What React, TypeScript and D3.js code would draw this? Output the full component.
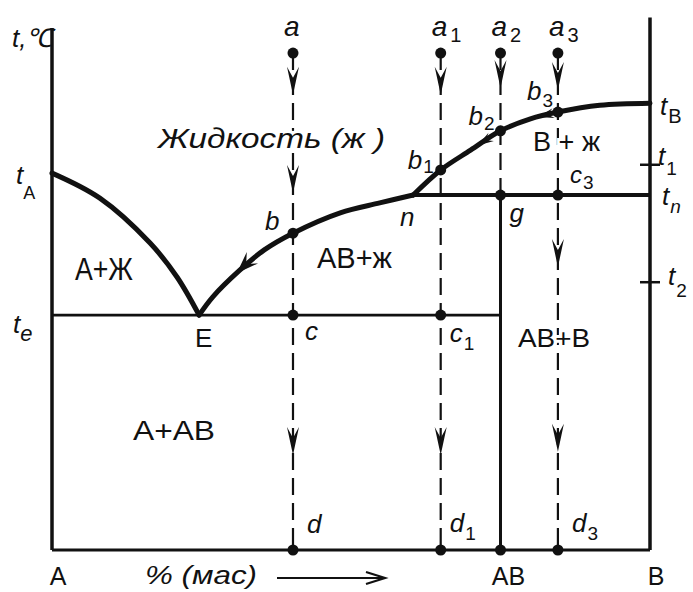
import React from "react";
import * as d3 from "d3";

// Phase diagram A–B with a congruent compound AB (composition in % by mass, temperature in relative units)
const W = 693;
const H = 592;

// Composition axis markers
const componentNames = ["A", "AB", "B"];
const componentComp = [0, 75, 100];

// Characteristic temperatures
const T_E = 45.0; // eutectic
const T_N = 68.0; // horizontal through n
const T_1 = 73.8;
const T_2 = 51.3;
const T_START = 95.2; // starting temperature of the melts a, a1, a2, a3

// Liquidus branches [composition, temperature]
const liquidusA: [number, number][] = [
  [0, 72.2], [8.0, 67.4], [16.4, 58.8], [20.9, 52.3], [24.6, 45.0],
];
const liquidusAB: [number, number][] = [
  [24.6, 45.0], [26.9, 48.5], [31.4, 53.6], [35.5, 57.5], [40.3, 60.7],
  [48.2, 64.6], [54.8, 66.5], [60.4, 68.0],
];
const liquidusB: [number, number][] = [
  [60.4, 68.0], [65.0, 72.8], [70.0, 76.6], [75.0, 80.3], [80.0, 82.6],
  [84.6, 83.9], [91.6, 85.2], [100, 85.6],
];

// Cooling paths of the four melts
const alloyComp = [40.3, 65.0, 75.0, 84.6];
const alloySub = ["", "1", "2", "3"];
const alloyEnd = [0, 0, T_N, 0];
const alloyDots = [[60.7, T_E, 0], [72.8, T_E, 0], [80.3, T_N, 0], [83.9, T_N, 0]];
const alloyArrows = [[87.2, 68.4, 18.2], [87.2, 18.2], [88.5], [88.1, 54.2, 18.8]];

const x = d3.scaleLinear().domain([0, 100]).range([52, 650]);
const y = d3.scaleLinear().domain([0, 100]).range([550, 28]);

const FONT = "'Liberation Sans', Arial, sans-serif";

const line = d3
  .line<[number, number]>()
  .x((d) => x(d[0]))
  .y((d) => y(d[1]))
  .curve(d3.curveCatmullRom.alpha(0.5));

function Lbl(props: {
  px: number; py: number; main: string; sub?: string; size?: number; subSize?: number;
  subDy?: number; subDx?: number; italic?: boolean; subItalic?: boolean; textLength?: number; halo?: boolean;
}) {
  const { px, py, main, sub, size = 26, subSize = 19, subDy = 7, subDx = 1, italic = true, subItalic, textLength, halo } = props;
  return (
    <text
      x={px}
      y={py}
      fontSize={size}
      fontFamily={FONT}
      fontStyle={italic ? "italic" : "normal"}
      fill="#111"
      stroke={halo ? "#fff" : undefined}
      strokeWidth={halo ? 6 : undefined}
      paintOrder={halo ? "stroke" : undefined}
      textLength={textLength}
      lengthAdjust={textLength ? "spacingAndGlyphs" : undefined}
    >
      {main}
      {sub ? (
        <tspan dx={subDx} dy={subDy} fontSize={subSize} fontStyle={(subItalic ?? italic) ? "italic" : "normal"}>
          {sub}
        </tspan>
      ) : null}
    </text>
  );
}

// Arrowhead along the liquidus, pointing toward lower compositions
function curveArrow(pts: [number, number][], c: number, len: number, half: number) {
  for (let i = 0; i < pts.length - 1; i++) {
    const [c0, t0] = pts[i];
    const [c1, t1] = pts[i + 1];
    if (c >= c0 && c <= c1) {
      const f = (c - c0) / (c1 - c0);
      const tx = x(c), ty = y(t0 + f * (t1 - t0));
      let dx = x(c0) - x(c1), dy = y(t0) - y(t1);
      const n = Math.hypot(dx, dy);
      dx /= n; dy /= n;
      const bx = tx - dx * len, by = ty - dy * len;
      const nx = -dy, ny = dx;
      const mx = tx - dx * len * 0.6, my = ty - dy * len * 0.6;
      return `M${tx},${ty}L${bx + nx * half},${by + ny * half}L${mx},${my}L${bx - nx * half},${by - ny * half}Z`;
    }
  }
  return "";
}

export default function App() {
  const down = "M0,0L-6,-28L0,-17L6,-28Z";
  return (
    <svg
      width={W}
      height={H}
      viewBox={`0 0 ${W} ${H}`}
      style={{ position: "absolute", left: 0, top: 0, background: "#fff" }}
    >
      <rect width={W} height={H} fill="#fff" />
      {/* frame */}
      <line x1={x(0)} x2={x(0)} y1={y(100)} y2={y(0)} stroke="#111" strokeWidth={3.5} />
      <line x1={x(100)} x2={x(100)} y1={y(102)} y2={y(0)} stroke="#111" strokeWidth={3.5} />
      <line x1={x(0)} x2={x(100)} y1={y(0)} y2={y(0)} stroke="#111" strokeWidth={3} />
      {/* eutectic horizontal */}
      <line x1={x(0)} x2={x(componentComp[1])} y1={y(T_E)} y2={y(T_E)} stroke="#111" strokeWidth={2.6} />
      {/* compound AB */}
      <line x1={x(componentComp[1])} x2={x(componentComp[1])} y1={y(T_N)} y2={y(0)} stroke="#111" strokeWidth={3} />
      {/* horizontal at t_n */}
      <line x1={x(liquidusB[0][0])} x2={x(100)} y1={y(T_N)} y2={y(T_N)} stroke="#111" strokeWidth={4} />
      {/* ticks t1, t2 */}
      {[T_1, T_2].map((t, i) => (
        <line key={i} x1={x(100) - 10} x2={x(100) + 10} y1={y(t)} y2={y(t)} stroke="#111" strokeWidth={2.5} />
      ))}
      {/* liquidus */}
      {[liquidusA, liquidusAB, liquidusB].map((p, i) => (
        <path key={i} d={line(p) || ""} fill="none" stroke="#111" strokeWidth={5} strokeLinejoin="round" strokeLinecap="round" />
      ))}
      <path d={curveArrow(liquidusAB, 30.9, 22, 8)} fill="#111" />
      <path d={curveArrow(liquidusB, 71.2, 16, 5)} fill="#111" />
      <path d={curveArrow(liquidusB, 81.3, 16, 5)} fill="#111" />

      {/* cooling paths */}
      {alloyComp.map((c, i) => (
        <g key={i}>
          <line
            x1={x(c)} x2={x(c)} y1={y(T_START)} y2={y(alloyEnd[i])}
            stroke="#111" strokeWidth={2.2} strokeDasharray="17 8"
          />
          <circle cx={x(c)} cy={y(T_START)} r={5.5} fill="#111" />
          {alloyDots[i].map((t, j) => (
            <circle key={j} cx={x(c)} cy={y(t)} r={5.5} fill="#111" />
          ))}
          {alloyArrows[i].map((t, j) => (
            <path key={j} d={down} transform={`translate(${x(c)},${y(t)})`} fill="#111" />
          ))}
          <Lbl px={x(c) - 9} py={36} main="a" sub={alloySub[i]} size={28} subSize={20} subDy={6} subDx={3} subItalic={false} />
        </g>
      ))}

      {/* percent arrow */}
      <line x1={277} x2={385} y1={578} y2={578} stroke="#111" strokeWidth={2.2} />
      <path d="M366,572L385,578L366,584" fill="none" stroke="#111" strokeWidth={2.2} />

      {/* labels */}
      <Lbl px={12} py={47} main="t,℃" size={26} />
      <Lbl px={16} py={184} main="t" sub="A" subItalic={false} subSize={18} subDy={15} subDx={0} />
      <Lbl px={13} py={333} main="t" sub="e" subSize={22} subDy={8} subDx={0} />
      <Lbl px={158} py={148} main="Жидкость (ж )" size={27} textLength={227} halo />
      <Lbl px={75} py={280} main="A+Ж" size={32} italic={false} textLength={58} />
      <Lbl px={x(liquidusA[4][0]) - 4} py={347} main="E" size={26} italic={false} />
      <Lbl px={x(alloyComp[0]) - 28} py={230} main="b" />
      <Lbl px={400} py={226} main="n" />
      <Lbl px={317} py={268} main="AB+ж" size={30} italic={false} textLength={75} />
      <Lbl px={x(alloyComp[0]) + 12} py={340} main="c" />
      <Lbl px={x(alloyComp[1]) + 9} py={342} main="c" sub="1" subDy={8} subItalic={false} />
      <Lbl px={x(alloyComp[2]) + 9} py={222} main="g" />
      <Lbl px={518} py={347} main="AB+B" size={26} italic={false} textLength={72} halo />
      <Lbl px={x(alloyComp[1]) - 33} py={169} main="b" sub="1" subDy={4} subItalic={false} />
      <Lbl px={x(alloyComp[2]) - 32} py={125} main="b" sub="2" subDy={5} subItalic={false} />
      <Lbl px={x(alloyComp[3]) - 31} py={100} main="b" sub="3" subDy={7} subItalic={false} />
      <Lbl px={533} py={151} main="B + ж" size={28} italic={false} textLength={67} halo />
      <Lbl px={x(alloyComp[3]) + 12} py={183} main="c" size={24} sub="3" subDy={6} subItalic={false} />
      <Lbl px={660} py={115} main="t" sub="B" subItalic={false} subSize={20} subDy={8} />
      <Lbl px={658} py={165} main="t" sub="1" subDy={10} subItalic={false} />
      <Lbl px={662} py={205} main="t" sub="n" subDy={8} />
      <Lbl px={668} py={285} main="t" sub="2" subDy={12} subItalic={false} />
      <Lbl px={133} py={440} main="A+AB" size={28} italic={false} textLength={82} />
      <Lbl px={x(alloyComp[0]) + 14} py={533} main="d" />
      <Lbl px={x(alloyComp[1]) + 9} py={532} main="d" sub="1" subDy={8} subItalic={false} />
      <Lbl px={x(alloyComp[3]) + 14} py={532} main="d" sub="3" subDy={8} subItalic={false} />
      <Lbl px={145} py={584} main="% (мас)" size={26} textLength={112} />
      {componentNames.map((n, i) => (
        <text
          key={n}
          x={x(componentComp[i]) + (i === 1 ? 8 : 6)}
          y={585}
          fontSize={25}
          fontFamily={FONT}
          textAnchor="middle"
          fill="#111"
        >
          {n}
        </text>
      ))}
    </svg>
  );
}
